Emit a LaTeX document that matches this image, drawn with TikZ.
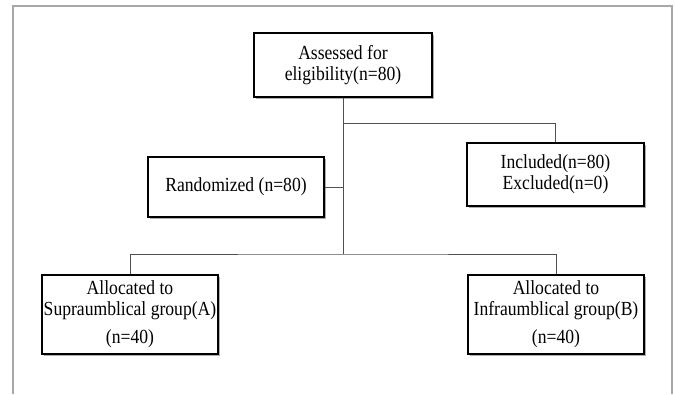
\documentclass[tikz,border=0pt]{standalone}
\usepackage{fontspec}
\setmainfont[FakeStretch=0.88]{Liberation Serif}
\usetikzlibrary{shadows}
\definecolor{framegray}{HTML}{A8A8A8}
\definecolor{linegray}{HTML}{505050}
\tikzset{
  box/.style={draw=black, line width=2pt, fill=white, inner sep=0pt, align=center,
    font=\fontsize{20}{21}\selectfont,
    drop shadow={shadow xshift=2pt, shadow yshift=-2pt, fill=black!45, opacity=0.7}},
  conn/.style={draw=linegray, line width=1pt},
  frame/.style={draw=framegray, line width=2pt}
}
\begin{document}
\begin{tikzpicture}[x=1pt,y=-1pt]
\useasboundingbox (0,0) rectangle (675,394);
\draw[frame] (13,394) -- (13,6) -- (672,6) -- (672,394);
\node[box, minimum width=178pt, minimum height=64pt] (assess) at (343,65) {Assessed for\\eligibility(n=80)};
\node[box, minimum width=177pt, minimum height=63pt] (incl) at (555.5,174.5) {Included(n=80)\\Excluded(n=0)};
\node[box, minimum width=176pt, minimum height=60pt] (rand) at (236,187) {Randomized (n=80)};
\node[box, minimum width=176pt, minimum height=79pt] (allocA) at (130,314.5) {Allocated to\\Supraumblical group(A)\\[7pt](n=40)};
\node[box, minimum width=176pt, minimum height=79pt] (allocB) at (556,314.5) {Allocated to\\Infraumblical group(B)\\[7pt](n=40)};
\coordinate (hubtop) at (343,123);
\coordinate (hub) at (343,254);
\draw[conn] (assess.south) -- (hub);
\draw[conn] (hubtop) -| (incl.north);
\draw[conn] (rand.east) -- (rand.east -| hub);
\draw[conn] (allocA.north) |- (hub) -| (allocB.north);
\end{tikzpicture}
\end{document}
